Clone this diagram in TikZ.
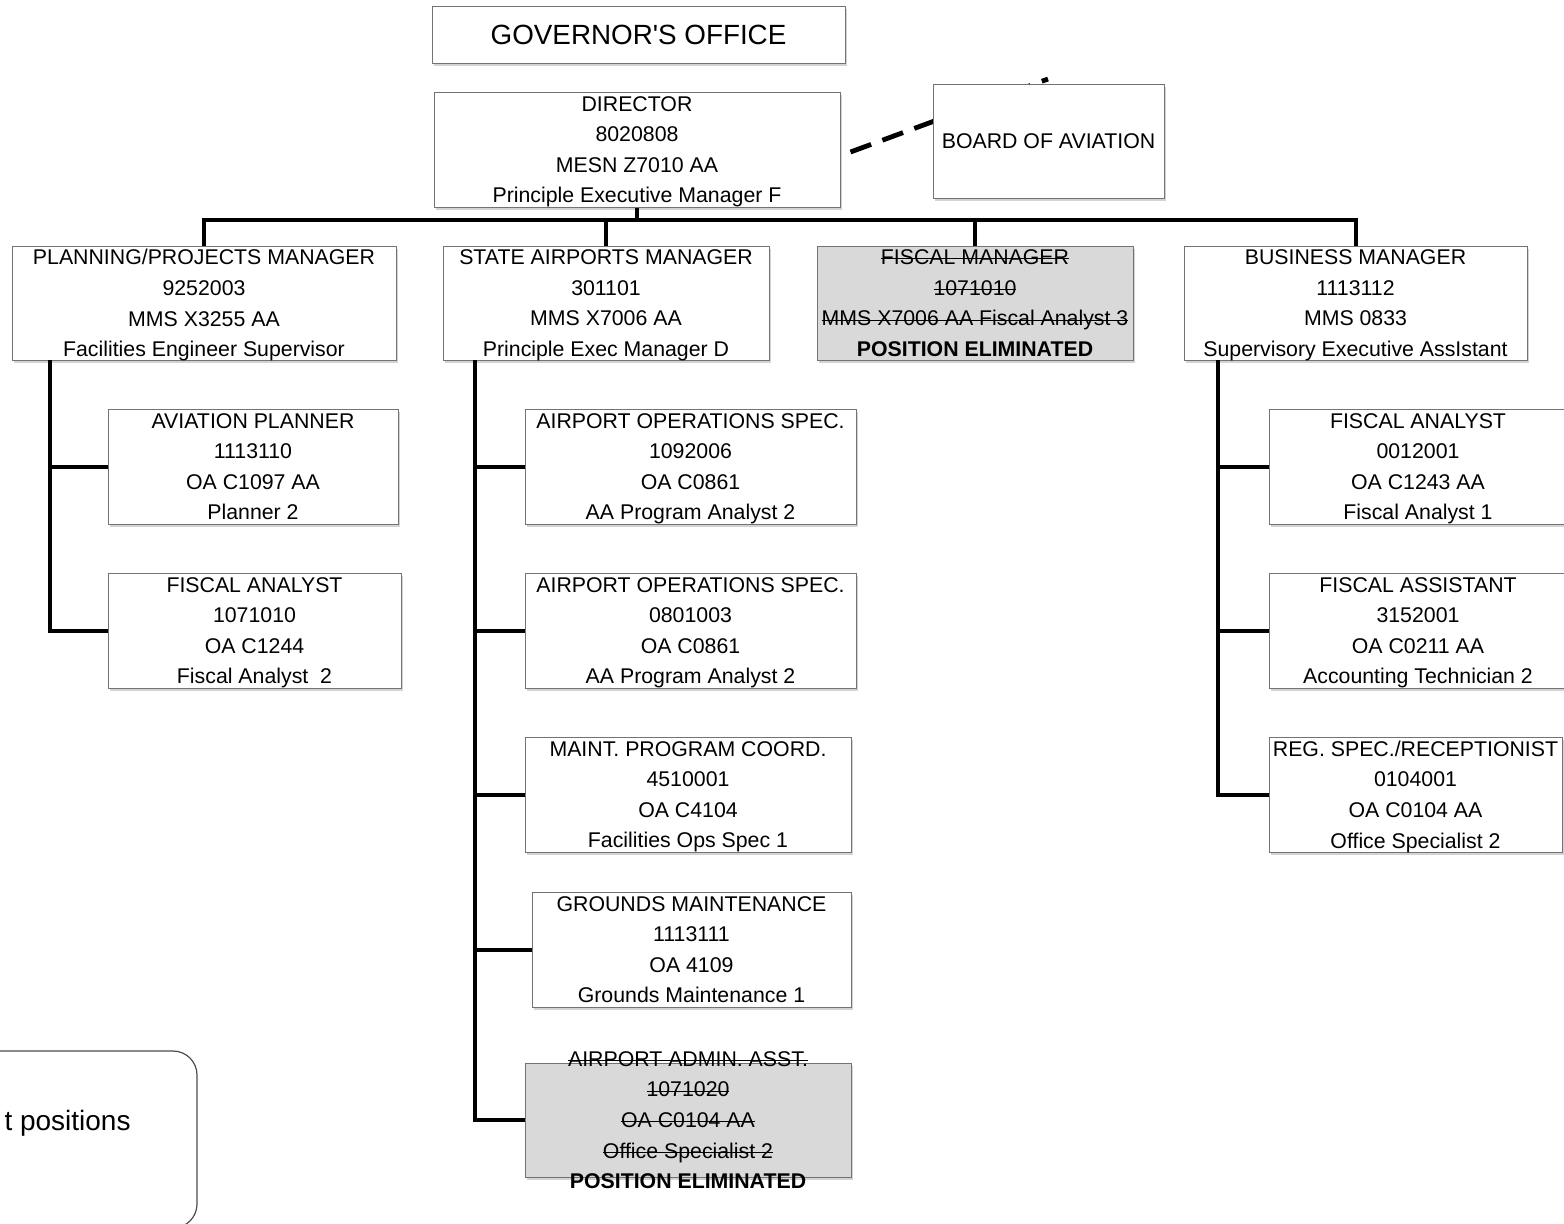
\documentclass[tikz,border=0pt]{standalone}
\usepackage{fontspec}
\setmainfont{Liberation Sans}
\usepackage{tikz}
\usetikzlibrary{shadows, positioning, calc}
\tikzstyle{post} = [rectangle, draw=black!55, line width=0.5pt, fill=white, inner sep=0pt, align=center, text depth=0pt, minimum height=57.5pt, font=\fontsize{10.65pt}{15.3pt}\selectfont, drop shadow={shadow xshift=1.2pt, shadow yshift=-1.5pt, opacity=0.35}]
\tikzstyle{conn} = [line width=2pt]
\newsavebox\strikebox
\newcommand{\strk}[1]{\sbox\strikebox{#1}\rlap{\rule[0.24em]{\wd\strikebox}{0.5pt}}\usebox\strikebox}

\begin{document}
\begin{tikzpicture}[x=0.5pt, y=-0.5pt]
            \tikzstyle{elim} = [post, fill=black!15]
            \tikzstyle{dashline} = [line width=2.4pt, dash pattern=on 11pt off 6pt]

            \useasboundingbox (0,0) rectangle (1564,1223);

            \node[post, minimum width=206.5pt, minimum height=28.5pt, font=\fontsize{13.9pt}{15pt}\selectfont] (governor) at (638.5,34.5) {GOVERNOR\textquotesingle S OFFICE};
            \node[post] (director) at (637,149.5) [minimum width=203pt] {DIRECTOR\\8020808\\MESN Z7010 AA\\Principle Executive Manager F};

            % board sits over the dashed link
            \coordinate (boardTip) at (1048,79);
            \draw[dashline] ([shift={(10,2.5)}]director.east) -- (boardTip);
            \node[post, minimum width=115.5pt, minimum height=57pt] (board) at (1048.5,141) {BOARD OF AVIATION};

            \node[post, minimum width=192pt, minimum height=57pt] (planning) at (204,303) {PLANNING/PROJECTS MANAGER\\9252003\\MMS X3255 AA\\Facilities Engineer Supervisor};
            \node[post, minimum width=163pt, minimum height=57pt] (airports) at (606,303) {STATE AIRPORTS MANAGER\\301101\\MMS X7006 AA\\Principle Exec Manager D};
            \node[elim, minimum width=158pt, minimum height=57pt] (fiscalMgr) at (975,303) {\strk{FISCAL MANAGER}\\\strk{1071010}\\\strk{MMS X7006 AA Fiscal Analyst 3}\\\textbf{POSITION ELIMINATED}};
            \node[post, minimum width=171.5pt, minimum height=57pt] (business) at (1355.5,303) {BUSINESS MANAGER\\1113112\\MMS 0833\\Supervisory Executive AssIstant};

            \node[post, minimum width=145pt] (planner) at (253,466.5) {AVIATION PLANNER\\1113110\\OA C1097 AA\\Planner 2};
            \node[post, minimum width=146.5pt] (fiscalAnalyst2) at (254.5,630.5) {FISCAL ANALYST\\1071010\\OA C1244\\Fiscal Analyst\ \ 2};

            \node[post, minimum width=165.5pt] (opsSpecA) at (690.5,466.5) {AIRPORT OPERATIONS SPEC.\\1092006\\OA C0861\\AA Program Analyst 2};
            \node[post, minimum width=165.5pt] (opsSpecB) at (690.5,630.5) {AIRPORT OPERATIONS SPEC.\\0801003\\OA C0861\\AA Program Analyst 2};
            \node[post, minimum width=163pt] (maint) at (688,794.5) {MAINT. PROGRAM COORD.\\4510001\\OA C4104\\Facilities Ops Spec 1};
            \node[post, minimum width=159.5pt] (grounds) at (691.5,949.5) {GROUNDS MAINTENANCE\\1113111\\OA 4109\\Grounds Maintenance 1};
            \node[elim, minimum width=163pt, minimum height=57pt] (adminAsst) at (688,1120) {};
            \node[align=center, inner sep=0pt, text depth=0pt, font=\fontsize{10.65pt}{15.3pt}\selectfont] (adminText) at (adminAsst) {\strk{AIRPORT ADMIN. ASST.}\\\strk{1071020}\\\strk{OA C0104 AA}\\\strk{Office Specialist 2}\\\textbf{POSITION ELIMINATED}};

            \node[post, minimum width=149pt] (fiscalAnalyst1) at (1418,466.5) {FISCAL ANALYST\\0012001\\OA C1243 AA\\Fiscal Analyst 1};
            \node[post, minimum width=149pt] (fiscalAsst) at (1418,630.5) {FISCAL ASSISTANT\\3152001\\OA C0211 AA\\Accounting Technician 2};
            \node[post, minimum width=146.5pt] (reception) at (1415.5,794.5) {REG. SPEC./RECEPTIONIST\\0104001\\OA C0104 AA\\Office Specialist 2};

            \node[draw=black!70, line width=0.6pt, rounded corners=12pt, minimum width=118.5pt, minimum height=88.5pt] (legend) at (78.5,1139.5) {};
            \node[anchor=east, inner sep=0pt, font=\fontsize{14pt}{16pt}\selectfont] (legendText) at (131,1123) {t positions};

            % reporting lines
            \coordinate (bus) at (637,220);
            \coordinate (planSpine) at (50,360);
            \coordinate (airSpine) at (475,360);
            \coordinate (busSpine) at (1218,360);

            \draw[conn] (director.south) -- (bus);
            \draw[conn] (planning.north) |- (bus);
            \draw[conn] (airports.north) |- (bus);
            \draw[conn] (fiscalMgr.north) |- (bus);
            \draw[conn] (business.north) |- (bus);

            \draw[conn] (planSpine) |- (fiscalAnalyst2.west);
            \draw[conn] (planner.west) -- (planner.west -| planSpine);

            \draw[conn] (airSpine) |- (adminAsst.west);
            \draw[conn] (opsSpecA.west) -- (opsSpecA.west -| airSpine);
            \draw[conn] (opsSpecB.west) -- (opsSpecB.west -| airSpine);
            \draw[conn] (maint.west) -- (maint.west -| airSpine);
            \draw[conn] (grounds.west) -- (grounds.west -| airSpine);

            \draw[conn] (busSpine) |- (reception.west);
            \draw[conn] (fiscalAnalyst1.west) -- (fiscalAnalyst1.west -| busSpine);
            \draw[conn] (fiscalAsst.west) -- (fiscalAsst.west -| busSpine);

\end{tikzpicture}
\end{document}
